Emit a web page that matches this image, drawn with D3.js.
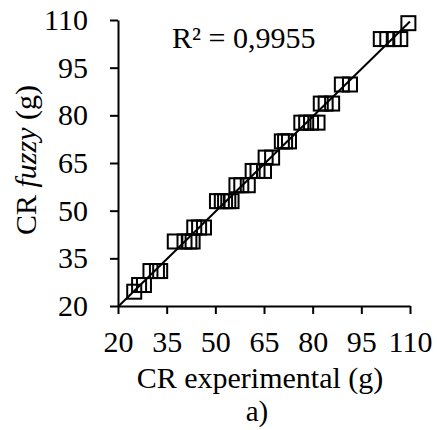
<!DOCTYPE html>
<html>
<head>
<meta charset="utf-8">
<script src="https://cdn.jsdelivr.net/npm/d3@7"></script>
<style>
	body { margin: 0; background: #fff; }
	svg { display: block; font-family: "Liberation Serif", "Times New Roman", serif; }
	.axis path, .axis line { stroke: #000; stroke-width: 2; }
	.axis text { font-size: 30px; fill: #000; font-family: "Liberation Serif", serif; }
</style>
</head>
<body>
<div id="chart"></div>
<script>
// CR experimental (g) vs CR fuzzy (g)
const experimental = [25, 26.5, 28, 30, 32, 33, 37.5, 40.5, 42, 43, 43.5, 45, 46.5,
	50.5, 52, 53, 54, 55, 56.5, 58, 60, 61.5, 63, 65, 65.5, 67.5, 70.5, 71.5, 72.7,
	76.5, 78, 79.5, 81.5, 82.5, 84, 86, 89, 91.5, 101, 103, 105, 107, 109.5];
const fuzzy = [24.5, 26.6, 26.6, 31, 31, 31, 40.3, 40.3, 40.3, 40.3, 44.7, 44.7, 44.7,
	53, 53, 53, 53, 53, 58, 58, 58, 62.5, 62.5, 62.5, 66.7, 66.7, 71.8, 71.8, 71.8,
	77.7, 77.7, 77.7, 77.7, 83.7, 83.7, 83.7, 89.7, 89.7, 104, 104, 104, 104, 109];
const tickValues = [20, 35, 50, 65, 80, 95, 110];
const r2Label = "R² = 0,9955";

const width = 437, height = 430;
const margin = { top: 20, right: 27, bottom: 124, left: 118 };

const svg = d3.select("#chart").append("svg")
	.attr("width", width)
	.attr("height", height);

const x = d3.scaleLinear().domain([20, 110]).range([margin.left, width - margin.right]);
const y = d3.scaleLinear().domain([20, 110]).range([height - margin.bottom, margin.top]);

// assen
svg.append("g")
	.attr("class", "axis")
	.attr("transform", `translate(0, ${height - margin.bottom})`)
	.call(d3.axisBottom(x).tickValues(tickValues).tickSize(8).tickSizeOuter(0).tickPadding(17));

svg.append("g")
	.attr("class", "axis")
	.attr("transform", `translate(${margin.left}, 0)`)
	.call(d3.axisLeft(y).tickValues(tickValues).tickSize(8).tickSizeOuter(0).tickPadding(22));

// trendlijn (kleinste kwadraten)
const mx = d3.mean(experimental), my = d3.mean(fuzzy);
const slope = d3.sum(experimental, (v, i) => (v - mx) * (fuzzy[i] - my)) /
	d3.sum(experimental, v => (v - mx) * (v - mx));
const intercept = my - slope * mx;
svg.append("line")
	.attr("x1", x(20)).attr("y1", y(intercept + slope * 20))
	.attr("x2", x(110)).attr("y2", y(intercept + slope * 110))
	.attr("stroke", "#000")
	.attr("stroke-width", 2);

// markers
const s = 14;
svg.selectAll(".pt")
	.data(experimental.map((v, i) => [v, fuzzy[i]]))
	.enter()
	.append("rect")
	.attr("class", "pt")
	.attr("x", d => x(d[0]) - s / 2)
	.attr("y", d => y(d[1]) - s / 2)
	.attr("width", s)
	.attr("height", s)
	.attr("fill", "none")
	.attr("stroke", "#000")
	.attr("stroke-width", 2);

svg.append("text")
	.attr("x", 172)
	.attr("y", 48)
	.attr("font-size", 30)
	.text(r2Label);

svg.append("text")
	.attr("x", 260)
	.attr("y", 388)
	.attr("text-anchor", "middle")
	.attr("font-size", 30)
	.text("CR experimental (g)");

svg.append("text")
	.attr("x", 257)
	.attr("y", 421)
	.attr("text-anchor", "middle")
	.attr("font-size", 29)
	.text("a)");

const yTitle = svg.append("text")
	.attr("transform", "translate(36, 160) rotate(-90)")
	.attr("text-anchor", "middle")
	.attr("font-size", 30);
yTitle.append("tspan").text("CR ");
yTitle.append("tspan").attr("font-style", "italic").text("fuzzy");
yTitle.append("tspan").text(" (g)");
</script>
</body>
</html>
